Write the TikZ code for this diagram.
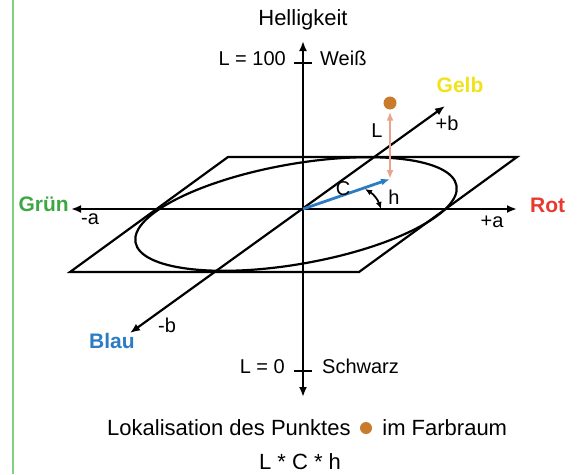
\documentclass[tikz,border=0pt]{standalone}
\usepackage{fontspec}
\setmainfont{Liberation Sans}
\usepackage{xcolor}
\usetikzlibrary{arrows.meta,positioning}
\definecolor{gruen}{HTML}{3DA645}
\definecolor{rot}{HTML}{E8392F}
\definecolor{gelb}{HTML}{F2E21A}
\definecolor{blau}{HTML}{2C7CC4}
\definecolor{punkt}{HTML}{C97B2C}
\definecolor{lachs}{HTML}{E9A48E}
\definecolor{rand}{HTML}{80D080}
\begin{document}
\begin{tikzpicture}[x=1pt, y=-1pt,
  font=\fontsize{20}{24}\selectfont, inner sep=0pt,
  axis/.style={line width=2.2pt, {Latex[length=10pt,width=8pt]}-{Latex[length=10pt,width=8pt]}},
  plane/.style={line width=2.2pt, line join=miter},
  tick/.style={line width=1.8pt},
  farbe/.style={font=\fontsize{21}{24}\selectfont\bfseries},
  big/.style={font=\fontsize{22}{26}\selectfont},
  carr/.style={line width=2.8pt, draw=blau, -{Latex[length=9pt,width=7pt]}},
  larr/.style={line width=2.2pt, draw=lachs, {Latex[length=9pt,width=7pt]}-{Latex[length=9pt,width=7pt]}},
  harr/.style={line width=1.8pt, {Latex[length=7pt,width=6pt]}-{Latex[length=7pt,width=6pt]}},
  dot/.style={circle, fill=punkt, minimum size=#1}]
  \useasboundingbox (0,0) rectangle (583,474);
  \draw[rand, line width=1.5pt] (13,0) -- (13,474);
  % axis end points
  \coordinate (O) at (303,209);
  \coordinate (Loben) at (303,41);
  \coordinate (Lunten) at (303,397);
  \coordinate (aplus) at (517,209);
  \coordinate (aminus) at (71,209);
  \coordinate (bplus) at (445,106);
  \coordinate (bminus) at (130,333);
  \coordinate (t100) at (303,63);
  \coordinate (t0) at (303,371);
  % a-b plane with colour circle
  \draw[plane] (228,157) -- (517,157) -- (359,272) -- (70,272) -- cycle;
  \draw[plane, rotate around={10:(296,214)}] (296,214) ellipse [x radius=163, y radius=50];
  \draw[axis] (Lunten) -- (Loben);
  \draw[axis] (aminus) -- (aplus);
  \draw[axis] (bminus) -- (bplus);
  \draw[tick] ([xshift=-9pt]t100) -- ([xshift=9pt]t100);
  \draw[tick] ([xshift=-9pt]t0) -- ([xshift=9pt]t0);
  % labels
  \node[big] (hell) at (303,20) {Helligkeit};
  \node[anchor=mid east] (l100) at (286,63) {L = 100};
  \node[anchor=mid west] (weiss) at (320,63) {Weiß};
  \node[anchor=mid east] (l0) at (285,371) {L = 0};
  \node[anchor=mid west] (schwarz) at (322,371) {Schwarz};
  \node[farbe, text=gruen, anchor=mid east] (gruen) at (69,209) {Grün};
  \node[farbe, text=rot, anchor=mid west] (rot) at (530,210) {Rot};
  \node[farbe, text=gelb, anchor=mid] (gelb) at (460,90) {Gelb};
  \node[farbe, text=blau, anchor=mid] (blau) at (112,346) {Blau};
  \node[anchor=mid] (am) at (90,222) {-a};
  \node[anchor=mid] (ap) at (492,225) {+a};
  \node[anchor=mid] (bp) at (447,128) {+b};
  \node[anchor=mid] (bm) at (167,330) {-b};
  % point with L, C, h
  \node[dot=13pt] (pkt) at (390,103) {};
  \coordinate (Cend) at (390,179);
  \draw[larr] ([yshift=-2pt]pkt.south) -- (Cend);
  \draw[carr] (O) -- (Cend);
  \node[anchor=mid] (Llbl) at (377,135) {L};
  \node[anchor=mid] (Clbl) at (343,193) {C};
  \node[anchor=mid] (hlbl) at (394,202) {h};
  \coordinate (h1) at (365,189);
  \coordinate (h2) at (381,209);
  \draw[harr] (h1) to[bend left=20] (h2);
  % caption
  \node[dot=12pt] (capdot) at (366,428) {};
  \node[big, left=9pt of capdot] (cap1) {Lokalisation des Punktes};
  \node[big, right=10pt of capdot] (cap2) {im Farbraum};
  \node[big] (lch) at (300,462) {L * C * h};
\end{tikzpicture}
\end{document}
